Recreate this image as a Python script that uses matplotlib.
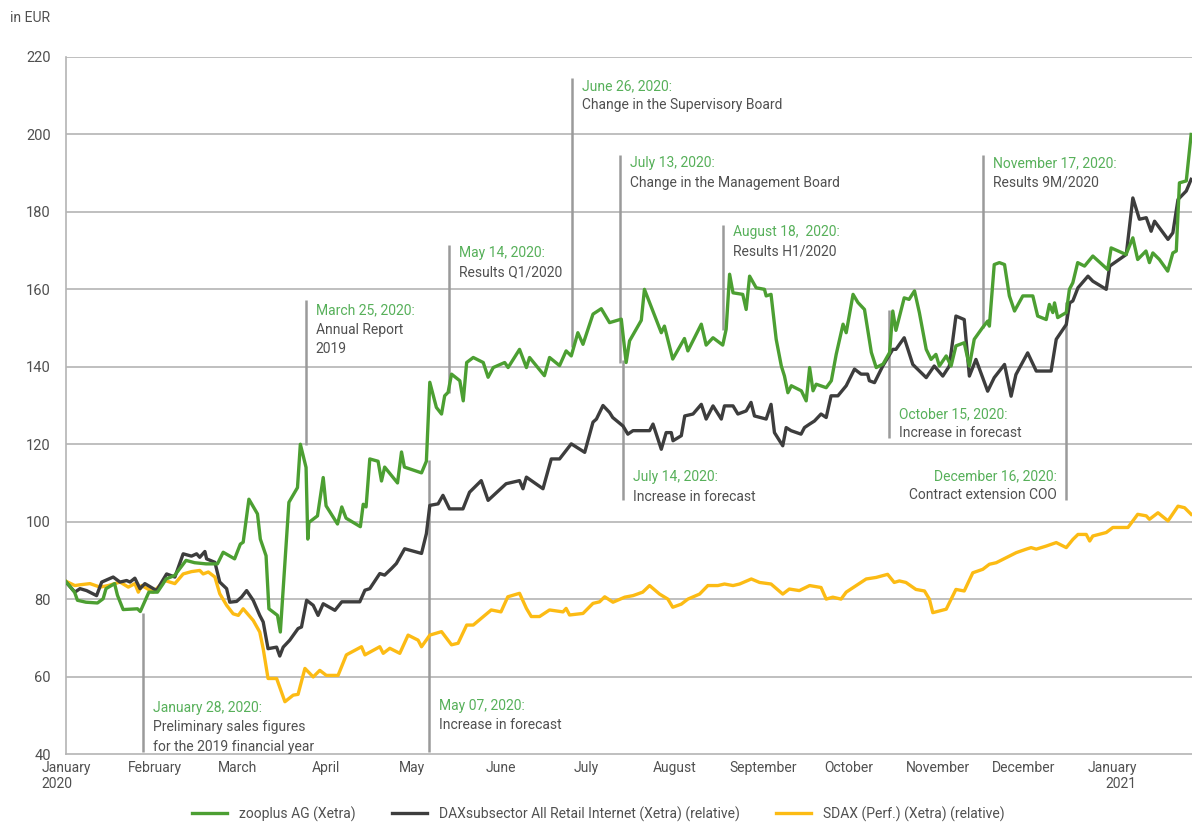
import matplotlib
matplotlib.use("Agg")
import matplotlib.pyplot as plt
from matplotlib.lines import Line2D
import pandas as pd

# values; x = days since 2020-01-01
zoo_days = [0, 3, 4, 7, 11, 13, 14, 17, 18, 20, 25, 26, 28, 29, 32, 34, 35, 38, 42, 45,
            49, 53, 55, 59, 61, 62, 64, 67, 68, 70, 71, 74, 75, 78, 81, 82, 84, 84.6, 85, 88,
            90, 91, 95, 96.5, 98, 103, 104, 105, 106.3, 109.2, 110.4, 111.5, 116, 117.4, 118.4, 124.4, 126.1, 127.3, 129.6, 131.4,
            132.5, 133.7, 134.9, 137.8, 139, 140.2, 142.5, 146, 147.7, 149.5, 153.5, 154.7, 158.7, 161.1, 162.2, 167.4, 169.2, 172.7, 175, 176.8,
            179.1, 180.9, 184.4, 187.3, 190.2, 194.3, 196, 197.2, 201.3, 202.4, 204.2, 208.3, 209.4, 212.3, 216.4, 217.6, 222.3, 224, 226.4, 229.8,
            231, 232.2, 233.4, 236.8, 238, 239.2, 241.5, 244.4, 245, 246.7, 248.5, 250.3, 251.4, 252.6, 253.8, 257.3, 259, 260.2, 261.4, 262.5,
            266, 267.8, 269.5, 271.9, 273, 275.4, 277.1, 279.4, 281.8, 283.5, 285.9, 288.2, 289.3, 290.4, 293.3, 295, 296.9, 298.6, 301, 302.7,
            304.4, 305.6, 308, 309.7, 311.4, 314.3, 316.1, 317.8, 320.7, 322.5, 323.1, 324.8, 326.6, 328.4, 330.1, 331.9, 334.8, 338.3, 340, 343,
            344.1, 345.3, 345.9, 347, 350, 351.1, 352.3, 354, 356.4, 359.3, 364.5, 365.7, 370.9, 373.3, 375, 377.9, 379.1, 380.3, 382.6, 385.5,
            387.3, 388.5, 389.6, 392, 393.7]
zoo_vals = [84.5, 81.8, 79.7, 79.2, 79.0, 80.1, 82.7, 84.0, 81.0, 77.3, 77.5, 76.8, 80.1, 81.8, 81.8, 84.0, 85.2, 86.1, 90.0, 89.4,
            89.1, 89.1, 92.1, 90.4, 94.2, 94.7, 105.8, 102.0, 95.5, 91.2, 77.5, 75.8, 71.5, 105.0, 108.8, 120.0, 114.0, 95.5, 99.8, 101.5,
            111.4, 104.1, 99.4, 103.8, 100.9, 98.7, 104.5, 103.8, 116.2, 115.6, 110.5, 114.1, 110.0, 118.0, 114.1, 112.6, 115.6, 136.0, 129.5, 127.8,
            132.5, 133.4, 138.1, 136.4, 131.2, 141.1, 142.4, 141.1, 137.3, 139.8, 141.1, 139.8, 144.5, 139.8, 142.4, 137.7, 142.4, 140.3, 144.1, 142.8,
            148.8, 145.8, 153.6, 155.0, 151.4, 152.3, 141.1, 146.7, 152.0, 160.0, 156.6, 148.8, 150.5, 142.0, 147.3, 144.1, 151.0, 145.6, 147.5, 145.6,
            149.7, 163.9, 159.1, 158.7, 154.8, 163.4, 160.4, 160.0, 158.3, 158.7, 147.1, 140.2, 137.6, 133.3, 135.1, 133.8, 131.2, 139.8, 133.8, 135.5,
            134.6, 136.4, 143.2, 151.0, 148.8, 158.7, 156.6, 154.8, 143.7, 139.8, 140.7, 143.7, 154.4, 149.4, 157.8, 157.4, 159.6, 154.0, 144.5, 141.9,
            143.2, 140.2, 142.8, 140.2, 145.4, 146.2, 140.2, 147.1, 150.1, 151.8, 150.5, 166.4, 166.9, 166.4, 158.3, 154.4, 158.3, 158.3, 153.1, 152.2,
            156.1, 154.0, 156.5, 152.7, 154.0, 160.0, 161.7, 166.9, 166.0, 168.6, 165.1, 170.7, 169.0, 173.3, 167.7, 169.9, 166.9, 169.4, 167.7, 164.7,
            169.4, 169.9, 187.5, 188.0, 200.0]

dax_days = [0, 3.1, 4.9, 7.2, 10.7, 12.5, 16.5, 18.9, 21.2, 22.4, 24.1, 25.9, 27.6, 31.7, 35.2, 38.1, 41, 43.9, 45.7, 46.8,
            48.6, 49.2, 52.1, 53.8, 56.2, 57.3, 59.7, 61.4, 63.2, 65.5, 67.8, 69, 70.7, 73.7, 74.8, 76, 78.3, 81.2, 82.4, 84.2,
            86.5, 88.2, 90, 94.1, 96.5, 102.8, 104.6, 106.3, 109.8, 111.5, 113.9, 115.6, 118.5, 124.4, 126.1, 127.3, 130.2, 131.9, 134.2, 138.9,
            141.2, 145.3, 147.7, 154, 158.7, 159.9, 161.1, 166.9, 169.8, 172.7, 176.8, 181.5, 184.4, 185.6, 187.9, 190.2, 191.3, 194.9, 196.6, 198.4,
            204.2, 205.4, 208.3, 210, 211.8, 212.4, 215.3, 216.5, 219.4, 222.3, 224, 226.4, 229.3, 230.4, 233.4, 235.1, 238, 239.7, 240.9, 245,
            246.7, 247.9, 250.8, 252, 253.7, 257.2, 258.4, 260.2, 261.9, 264.2, 266, 267.7, 270.1, 273, 275.9, 278.2, 280.5, 281.1, 282.9, 285.8,
            287.5, 289.3, 290.4, 293.3, 296.3, 301, 303.8, 306.8, 309.1, 311.4, 314.3, 316.1, 318.4, 322.5, 324.8, 328.4, 330.7, 332.4, 336.5, 339.5,
            344.7, 346.5, 350, 351.2, 352.3, 354.1, 357.6, 359.3, 364, 365.2, 371, 373.3, 375.6, 378, 379.7, 380.9, 385.6, 387.3, 389.1, 392,
            393.7]
dax_vals = [84.4, 81.8, 82.7, 82.2, 80.9, 84.4, 85.7, 84.4, 84.8, 84.4, 85.4, 82.7, 84.0, 82.2, 86.5, 85.7, 91.7, 91.1, 91.7, 90.8,
            92.3, 90.4, 89.5, 84.4, 82.7, 79.2, 79.4, 80.5, 82.2, 79.7, 75.8, 74.1, 67.2, 67.6, 65.3, 67.6, 69.4, 72.4, 72.8, 79.7,
            78.4, 75.8, 78.8, 77.1, 79.3, 79.3, 82.3, 82.7, 86.6, 86.2, 87.9, 89.2, 93.0, 91.8, 96.9, 104.2, 104.6, 106.8, 103.3, 103.3,
            107.6, 110.6, 105.5, 109.8, 110.6, 108.5, 111.5, 108.5, 116.2, 116.2, 120.1, 117.9, 125.7, 126.5, 130.0, 128.2, 126.9, 124.7, 122.6, 123.5,
            123.5, 125.2, 118.7, 123.0, 123.0, 120.9, 122.2, 127.3, 127.8, 130.3, 126.5, 129.9, 126.5, 129.9, 129.9, 127.8, 128.6, 130.8, 127.3, 126.5,
            130.3, 123.0, 119.6, 124.3, 123.5, 122.6, 124.3, 125.2, 126.0, 127.8, 126.9, 132.5, 132.5, 135.1, 139.4, 138.1, 138.1, 136.4, 135.9, 140.2,
            142.3, 144.5, 144.5, 147.5, 140.6, 137.2, 140.2, 137.6, 140.2, 153.1, 152.2, 137.6, 141.9, 133.7, 137.2, 140.6, 132.4, 138.0, 143.6, 138.9,
            138.9, 147.1, 150.9, 156.5, 157.0, 160.4, 163.4, 162.1, 160.0, 166.0, 169.0, 183.6, 178.1, 178.5, 175.0, 177.6, 172.9, 174.6, 183.2, 185.4,
            188.4]

sdax_days = [0, 3.1, 4.9, 8.4, 11.9, 14.8, 18.9, 21.8, 24.1, 25.3, 26.5, 30.5, 32.3, 34.6, 38.1, 41, 43.9, 46.8, 48, 49.8,
             52.1, 53.8, 56.2, 58.5, 60.3, 62, 65.5, 67.8, 69, 70.7, 73.7, 76.6, 79.5, 81.2, 83.6, 86.5, 88.8, 91.1, 95.2, 98.1,
             103.4, 104.6, 109.8, 111, 113.3, 116.8, 119.7, 123.2, 124.4, 127.3, 131.4, 134.9, 137.2, 140.2, 142.5, 148.8, 152.2, 154.6, 158.7, 161.1,
             162.8, 165.7, 169.2, 173.9, 175, 176.2, 180.9, 184.4, 186.7, 188.5, 191.4, 195.5, 198.4, 201.8, 204.2, 207.7, 210.6, 212.3, 215.3, 217.6,
             221.7, 224.6, 228.1, 230.4, 233.4, 235.7, 239.8, 242.7, 246.7, 250.8, 253.1, 256.6, 260.2, 264.2, 266, 268.3, 271.2, 273, 276.5, 280,
             283.5, 287.5, 289.8, 291.6, 293.9, 297.4, 300.4, 302.1, 303.3, 308, 311.4, 314.3, 317.3, 320.8, 323.1, 325.5, 329, 332.5, 336, 337.7,
             339.5, 343, 346.5, 350, 352.3, 354.1, 357, 358.2, 359.3, 364, 366.3, 371.6, 375, 378, 379.1, 382.1, 385.6, 389.1, 391.4, 393.7]
sdax_vals = [84.6, 83.5, 83.7, 84.0, 83.1, 83.5, 84.4, 83.1, 84.0, 81.8, 83.5, 81.8, 83.1, 84.8, 84.0, 86.5, 87.1, 87.4, 86.5, 87.0,
             85.7, 81.4, 78.4, 76.2, 75.8, 77.5, 74.5, 71.5, 67.2, 59.5, 59.5, 53.5, 55.2, 55.4, 62.1, 59.9, 61.6, 60.3, 60.3, 65.6,
             67.7, 65.6, 67.7, 66.0, 67.3, 66.0, 70.7, 69.4, 67.7, 70.7, 71.6, 68.2, 68.6, 73.3, 73.3, 77.2, 76.7, 80.6, 81.5, 77.6,
             75.5, 75.5, 77.2, 76.7, 77.6, 75.9, 76.3, 78.9, 79.3, 80.6, 79.2, 80.5, 80.9, 81.8, 83.5, 81.3, 80.0, 77.9, 78.7, 80.0,
             81.3, 83.5, 83.5, 83.9, 83.5, 83.9, 85.2, 84.3, 83.9, 81.3, 82.6, 82.2, 83.5, 83.0, 80.0, 80.5, 80.0, 81.8, 83.5, 85.2,
             85.6, 86.4, 84.3, 84.7, 84.3, 82.5, 82.1, 80.0, 76.5, 77.4, 82.5, 82.1, 86.8, 87.7, 89.0, 89.4, 90.7, 92.0, 92.9, 93.3,
             92.9, 93.7, 94.6, 93.3, 95.4, 96.7, 96.7, 95.0, 96.3, 97.2, 98.5, 98.5, 101.9, 101.5, 100.6, 102.3, 100.2, 104.0, 103.6, 101.9]

series_labels = ["zooplus AG (Xetra)",
                 "DAXsubsector All Retail Internet (Xetra) (relative)",
                 "SDAX (Perf.) (Xetra) (relative)"]

# events: date, vertical line from/to (EUR), title level, title, text lines, side
events = [
    ("2020-01-28", 40.5, 76.4, 51.9, "January 28, 2020:", ["Preliminary sales figures", "for the 2019 financial year"], "left"),
    ("2020-03-25", 119.8, 157.2, 154.6, "March 25, 2020:", ["Annual Report", "2019"], "left"),
    ("2020-05-07", 40.5, 116.0, 52.4, "May 07, 2020:", ["Increase in forecast"], "left"),
    ("2020-05-14", 133.2, 171.4, 169.4, "May 14, 2020:", ["Results Q1/2020"], "left"),
    ("2020-06-26", 145.1, 214.5, 212.5, "June 26, 2020:", ["Change in the Supervisory Board"], "left"),
    ("2020-07-13", 141.0, 194.7, 192.6, "July 13, 2020:", ["Change in the Management Board"], "left"),
    ("2020-07-14", 105.6, 141.7, 111.5, "July 14, 2020:", ["Increase in forecast"], "left"),
    ("2020-08-18", 149.5, 176.6, 174.8, "August 18,  2020:", ["Results H1/2020"], "left"),
    ("2020-10-15", 121.6, 154.6, 127.8, "October 15, 2020:", ["Increase in forecast"], "left"),
    ("2020-11-17", 150.0, 194.7, 192.6, "November 17, 2020:", ["Results 9M/2020"], "left"),
    ("2020-12-16", 105.6, 156.7, 111.8, "December 16, 2020:", ["Contract extension COO"], "right"),
]

month_names = ["January\n2020", "February", "March", "April", "May", "June", "July",
               "August", "September", "October", "November", "December", "January\n2021"]

plt.rcParams["font.family"] = ["Roboto", "DejaVu Sans"]

GREEN = "#4c9f32"
BLACK = "#3d3d3d"
YELLOW = "#fcbb14"
TITLE_GREEN = "#57b05a"
TXT = "#505050"
GRID = "#b4b4b4"

start = pd.Timestamp("2020-01-01")


def to_dates(days):
    return start + pd.to_timedelta(days, unit="D")


fig = plt.figure(figsize=(11.92, 8.34), dpi=100)
ax = fig.add_axes([66 / 1192, 1 - 754 / 834, 1 - 66 / 1192, (754 - 57) / 834])

for y in range(60, 221, 20):
    ax.axhline(y, color=GRID, lw=1.2, zorder=1)

for d, lo, hi, ty, title, lines, side in events:
    dt = pd.Timestamp(d)
    ax.vlines(dt, lo, hi, color="#9a9a9a", lw=1.8, zorder=1.5)
    dx = 7 if side == "left" else -7
    ax.annotate(title, xy=(dt, ty), xytext=(dx, 0), textcoords="offset points",
                ha=side, va="center", color=TITLE_GREEN, fontsize=10)
    for k, line in enumerate(lines):
        ax.annotate(line, xy=(dt, ty), xytext=(dx, -14 * (k + 1)), textcoords="offset points",
                    ha=side, va="center", color=TXT, fontsize=10)

ax.plot(to_dates(sdax_days), sdax_vals, color=YELLOW, lw=2.4, zorder=3, solid_joinstyle="round")
ax.plot(to_dates(dax_days), dax_vals, color=BLACK, lw=2.4, zorder=3.2, solid_joinstyle="round")
ax.plot(to_dates(zoo_days), zoo_vals, color=GREEN, lw=2.4, zorder=3.4, solid_joinstyle="round")

ax.set_xlim(start, start + pd.Timedelta(days=394))
ax.set_ylim(40, 220)
ax.set_yticks(range(40, 221, 20))
ax.tick_params(axis="y", length=0, pad=11, labelsize=10.5, labelcolor=TXT)
ax.tick_params(axis="x", length=0, pad=5, labelsize=10, labelcolor=TXT)

ticks = pd.date_range("2020-01-01", "2021-01-01", freq="MS")
ax.set_xticks(ticks)
ax.set_xticklabels(month_names)
labels = ax.get_xticklabels()
labels[0].set_multialignment("left")
labels[-1].set_multialignment("right")

for s in ["top", "right"]:
    ax.spines[s].set_visible(False)
for s in ["left", "bottom"]:
    ax.spines[s].set_color(GRID)
    ax.spines[s].set_linewidth(1.2)

fig.text(10 / 1192, 1 - 18 / 834, "in EUR", fontsize=10, color=TXT, va="center")

handles = [Line2D([], [], color=c, lw=2.4) for c in (GREEN, BLACK, YELLOW)]
fig.legend(handles, series_labels, loc="lower center", bbox_to_anchor=(0.502, 0.0),
           ncol=3, frameon=False, fontsize=10, handlelength=2.5, handletextpad=0.9,
           columnspacing=2.6, labelcolor=TXT)

fig.savefig("out.png", dpi=100)
